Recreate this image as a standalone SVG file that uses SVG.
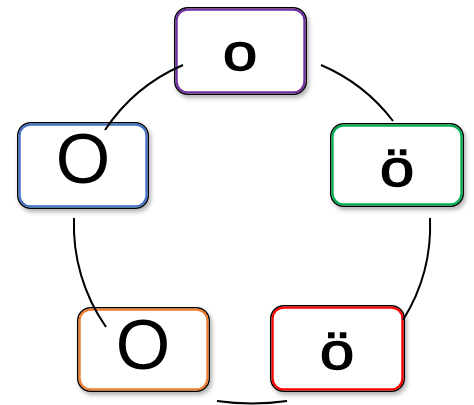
<svg xmlns="http://www.w3.org/2000/svg" width="474" height="405" viewBox="0 0 474 405">
<defs>
<filter id="sh" x="-10%" y="-10%" width="125%" height="130%">
<feDropShadow dx="2" dy="3" stdDeviation="2" flood-color="#000" flood-opacity="0.3"/>
</filter>
</defs>
<style>
.o{fill:#fff;stroke:#000;stroke-width:1.5}
.i{fill:none;stroke-width:2.2}
.t{font-family:"Liberation Sans",Arial,sans-serif;text-anchor:middle;fill:#000}
.s{font-size:52px;stroke:#000;stroke-width:1.4}
.c{fill:none;stroke:#000;stroke-width:2}
</style>
<rect width="474" height="405" fill="#fff"/>
<g id="node-top">
<rect class="o" filter="url(#sh)" x="174.75" y="7.75" width="131.5" height="86.5" rx="13"/>
<rect class="i" stroke="#7030A0" x="176.6" y="9.6" width="127.8" height="82.8" rx="11"/>
<text class="t s" transform="translate(240,70) scale(1.18,1)" x="0" y="0">o</text>
</g>
<g id="node-left">
<rect class="o" filter="url(#sh)" x="17.75" y="122.75" width="130.5" height="85.5" rx="13"/>
<rect class="i" stroke="#4472C4" x="19.6" y="124.6" width="126.8" height="81.8" rx="11"/>
<text class="t" x="83" y="183" font-size="70">O</text>
</g>
<g id="node-right">
<rect class="o" filter="url(#sh)" x="330.75" y="123.75" width="132.5" height="82.5" rx="13"/>
<rect class="i" stroke="#00B050" x="332.6" y="125.6" width="128.8" height="78.8" rx="11"/>
<text class="t s" transform="translate(397,186) scale(1.18,1)" x="0" y="0">ö</text>
</g>
<g id="node-bottom-left">
<rect class="o" filter="url(#sh)" x="77.75" y="307.75" width="131.5" height="83.5" rx="13"/>
<rect class="i" stroke="#ED7D31" x="79.6" y="309.6" width="127.8" height="79.8" rx="11"/>
<text class="t" x="143" y="369" font-size="70">O</text>
</g>
<g id="node-bottom-right">
<rect class="o" filter="url(#sh)" x="270.75" y="305.75" width="133.5" height="85.5" rx="13"/>
<rect class="i" stroke="#FF0000" x="272.6" y="307.6" width="129.8" height="81.8" rx="11"/>
<text class="t s" transform="translate(337,369) scale(1.18,1)" x="0" y="0">ö</text>
</g>
<g id="connectors">
<path class="c" d="M105,130 A178,178 0 0 1 183,65"/>
<path class="c" d="M321,65 A178,178 0 0 1 393,121"/>
<path class="c" d="M430,218 A178,178 0 0 1 403,320"/>
<path class="c" d="M287,401 Q252,406 217,401"/>
<path class="c" d="M106,327 A178,178 0 0 1 74,218"/>
</g>
</svg>
